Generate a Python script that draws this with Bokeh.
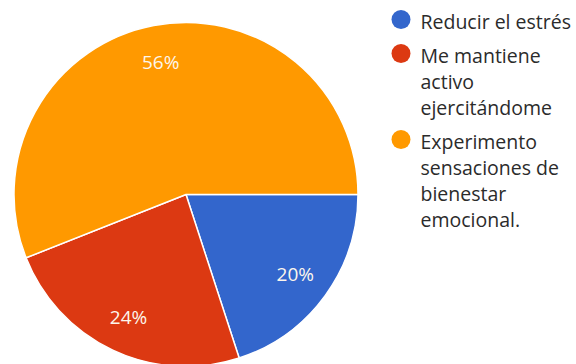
import math
from bokeh.plotting import figure
from bokeh.models import Range1d
from bokeh.core.properties import value
from bokeh.embed import file_html
from bokeh.resources import INLINE

# ---- data ----
categories = ["Reducir el estrés",
              "Me mantiene activo ejercitándome",
              "Experimento sensaciones de bienestar emocional."]
legend_lines = [["Reducir el estrés"],
                ["Me mantiene", "activo", "ejercitándome"],
                ["Experimento", "sensaciones de", "bienestar", "emocional."]]
percents = [20, 24, 56]
colors = ["#3366cc", "#dc3912", "#ff9900"]

W, H = 576, 364
p = figure(width=W, height=H, output_backend="svg", toolbar_location=None,
           x_range=Range1d(0, W), y_range=Range1d(0, H),
           min_border=0, outline_line_color=None)
p.axis.visible = False
p.grid.visible = False
p.background_fill_color = "white"
p.border_fill_color = "white"

cx, cy, R = 185.5, H - 194, 172
total = sum(percents)
cum = 0.0
starts, ends, lx, ly, ltxt = [], [], [], [], []
for v in percents:
    a0 = -2 * math.pi * cum / total
    a1 = -2 * math.pi * (cum + v) / total
    starts.append(a1)
    ends.append(a0)
    mid = (a0 + a1) / 2
    lx.append(cx + 0.785 * R * math.cos(mid))
    ly.append(cy + 0.785 * R * math.sin(mid))
    ltxt.append(f"{v}%")
    cum += v

p.wedge(x=cx, y=cy, radius=R, start_angle=starts, end_angle=ends,
        fill_color=colors, line_color="white", line_width=1.5)
p.text(x=lx, y=ly, text=ltxt, text_color="#fdf6ec", text_font=value("Open Sans"),
       text_font_size="19px", text_align="center", text_baseline="middle")

# legend
lgx, tx, lh, gap = 400.5, 420, 26, 8
y = 19
dot_y, txt_x, txt_y, txt = [], [], [], []
for i, lines in enumerate(legend_lines):
    dot_y.append(H - y)
    for j, ln in enumerate(lines):
        txt_x.append(tx)
        txt_y.append(H - (y + 1.5 + j * lh))
        txt.append(ln)
    y += lh * len(lines) + gap
p.scatter(x=[lgx] * len(dot_y), y=dot_y, size=19, marker="circle",
          fill_color=colors, line_color=None)
p.text(x=txt_x, y=txt_y, text=txt, text_color="#2b2b2b", text_font=value("Open Sans"),
       text_font_size="19.5px", text_align="left", text_baseline="middle")

open("out.html", "w").write(file_html(p, INLINE))
